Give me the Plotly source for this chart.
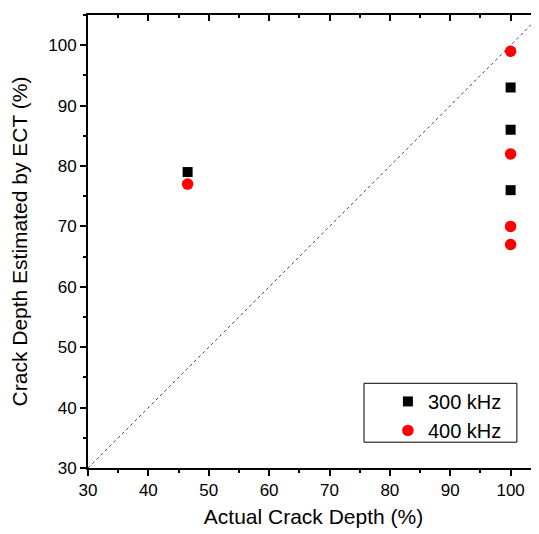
import plotly.graph_objects as go

x_300 = [46.5, 100, 100, 100]
y_300 = [79, 93, 86, 76]
x_400 = [46.5, 100, 100, 100, 100]
y_400 = [77, 99, 82, 70, 67]
diag = [30, 105]

FONT = "Liberation Sans, Arial, sans-serif"
fig = go.Figure()
fig.add_trace(go.Scatter(x=diag, y=diag, mode="lines", showlegend=False,
                         line=dict(color="#444444", width=1, dash="dot"), hoverinfo="skip"))
fig.add_trace(go.Scatter(x=x_300, y=y_300, mode="markers", name="300 kHz",
                         marker=dict(symbol="square", size=10, color="black")))
fig.add_trace(go.Scatter(x=x_400, y=y_400, mode="markers", name="400 kHz",
                         marker=dict(symbol="circle", size=11.5, color="red")))

ax_common = dict(showgrid=False, zeroline=False, showline=True, linecolor="black", linewidth=2,
                 tickcolor="black", tickwidth=2, ticklen=6, dtick=10, tick0=0, automargin=False,
                 minor=dict(dtick=5, ticklen=3, tickwidth=2, tickcolor="black"))
tf = dict(family=FONT, size=17, color="black")

fig.update_layout(
    width=531, height=526,
    margin=dict(l=80, r=0, t=7, b=66),
    plot_bgcolor="white", paper_bgcolor="white",
    font=dict(family=FONT, color="black"),
    xaxis=dict(range=[30, 104.7], ticks="outside", tickfont=tf,
               title=dict(text="Actual Crack Depth (%)", font=dict(size=21), standoff=10),
               **ax_common),
    yaxis=dict(range=[30, 105], ticks="outside", tickfont=tf,
               title=dict(text="Crack Depth Estimated by ECT (%)", font=dict(size=21), standoff=19),
               **ax_common),
    xaxis2=dict(range=[30, 104.7], overlaying="x", side="top", ticks="inside",
                showticklabels=False, **ax_common),
    yaxis2=dict(range=[30, 105], overlaying="y", side="right", ticks="inside",
                showticklabels=False, **ax_common),
    legend=dict(x=0.665, y=0.19, xanchor="left", yanchor="top",
                borderwidth=0, bgcolor="rgba(0,0,0,0)", tracegroupgap=0,
                font=dict(family=FONT, size=20, color="black")),
    shapes=[dict(type="rect", xref="paper", yref="paper", x0=0.612, x1=0.951, y0=0.057, y1=0.187,
                 line=dict(color="black", width=1), fillcolor="rgba(0,0,0,0)", layer="below")],
)
fig.layout.xaxis2.minor.ticks = "inside"
fig.layout.yaxis2.minor.ticks = "inside"
fig.layout.xaxis.minor.ticks = "outside"
fig.layout.yaxis.minor.ticks = "outside"
fig.add_trace(go.Scatter(x=[None], y=[None], xaxis="x2", yaxis="y2", showlegend=False, hoverinfo="skip"))
fig.write_html("out.html")
